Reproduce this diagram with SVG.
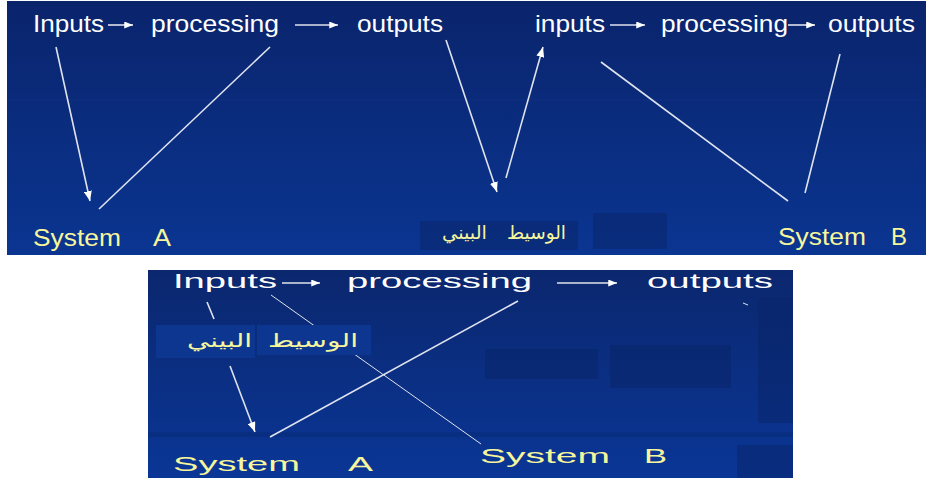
<svg xmlns="http://www.w3.org/2000/svg" width="926" height="478" viewBox="0 0 926 478">
<style>
.w{fill:#ffffff;font-family:"Liberation Sans",Arial,sans-serif;}
.y{fill:#f6f69c;font-family:"Liberation Sans",Arial,sans-serif;}
.ar{fill:#f6f69c;font-family:"DejaVu Sans",sans-serif;}
.ln{stroke:#dfe3ee;stroke-width:1.6;fill:none;}
.thin{stroke:#dfe3ee;stroke-width:1;fill:none;}
.dk{fill:#072468;opacity:0.5;}
.box{fill:#0c3690;}
</style>
<defs>
<linearGradient id="g1" x1="0" y1="0" x2="0" y2="1">
<stop offset="0" stop-color="#0a246c"/>
<stop offset="1" stop-color="#0a3591"/>
</linearGradient>
<linearGradient id="g2" x1="0" y1="0" x2="0" y2="1">
<stop offset="0" stop-color="#0b276e"/>
<stop offset="1" stop-color="#0a3696"/>
</linearGradient>
<marker id="ah" viewBox="0 0 10 8" refX="10" refY="4" markerWidth="9" markerHeight="7" markerUnits="userSpaceOnUse" orient="auto">
<path d="M0,0 L10,4 L0,8 Z" fill="#ffffff"/>
</marker>
<marker id="ah2" viewBox="0 0 10 8" refX="10" refY="4" markerWidth="10" markerHeight="8" markerUnits="userSpaceOnUse" orient="auto">
<path d="M0,0 L10,4 L0,8 Z" fill="#ffffff"/>
</marker>
</defs>
<rect width="926" height="478" fill="#ffffff"/>
<!-- top panel -->
<rect x="7" y="1" width="919" height="254" fill="url(#g1)"/>
<line x1="7" y1="100" x2="926" y2="100" stroke="#15338a" stroke-width="1" opacity="0.6"/>
<rect x="420" y="221" width="158" height="29" class="dk"/>
<rect x="593" y="213" width="74" height="36" class="dk"/>
<!-- bottom panel -->
<rect x="148" y="270" width="645" height="208" fill="url(#g2)"/>
<rect x="485" y="349" width="113" height="30" class="dk"/>
<rect x="610" y="345" width="121" height="43" class="dk"/>
<rect x="758" y="298" width="35" height="125" class="dk"/>
<rect x="148" y="432" width="645" height="5" fill="#07256e" opacity="0.35"/>
<rect x="737" y="445" width="56" height="33" class="dk"/>
<g id="connectors">
<line class="ln" x1="56" y1="47" x2="90" y2="201" marker-end="url(#ah2)"/>
<line class="ln" x1="270" y1="47" x2="99" y2="209"/>
<line class="ln" x1="446" y1="40" x2="497" y2="192" marker-end="url(#ah2)"/>
<line class="ln" x1="506" y1="178" x2="543" y2="47" marker-end="url(#ah2)"/>
<line class="ln" x1="601" y1="62" x2="788" y2="201"/>
<line class="ln" x1="840" y1="54" x2="805" y2="193"/>
<line class="ln" x1="108" y1="25" x2="133" y2="25" marker-end="url(#ah)"/>
<line class="ln" x1="295" y1="25" x2="338" y2="25" marker-end="url(#ah)"/>
<line class="ln" x1="610" y1="25" x2="645" y2="25" marker-end="url(#ah)"/>
<line class="ln" x1="788" y1="25" x2="815" y2="25" marker-end="url(#ah)"/>
<line class="ln" x1="282" y1="283" x2="320" y2="283" marker-end="url(#ah)"/>
<line class="ln" x1="557" y1="283" x2="617" y2="283" marker-end="url(#ah)"/>
<line class="thin" x1="271" y1="295" x2="481" y2="444"/>
<line class="ln" x1="207" y1="302" x2="214" y2="319"/>
<line class="ln" x1="518" y1="301" x2="270" y2="437"/>
<line class="ln" x1="230" y1="366" x2="255" y2="432" marker-end="url(#ah2)"/>
<line class="thin" x1="743" y1="303" x2="748" y2="305"/>
</g>
<g id="top-inputs-a"><text class="w" x="33" y="32" font-size="24" textLength="71" lengthAdjust="spacingAndGlyphs">Inputs</text></g>
<g id="top-processing-a"><text class="w" x="151" y="32" font-size="24" textLength="128" lengthAdjust="spacingAndGlyphs">processing</text></g>
<g id="top-outputs-a"><text class="w" x="357" y="32" font-size="24" textLength="86" lengthAdjust="spacingAndGlyphs">outputs</text></g>
<g id="top-inputs-b"><text class="w" x="535" y="32" font-size="24" textLength="70" lengthAdjust="spacingAndGlyphs">inputs</text></g>
<g id="top-processing-b"><text class="w" x="661" y="32" font-size="24" textLength="127" lengthAdjust="spacingAndGlyphs">processing</text></g>
<g id="top-outputs-b"><text class="w" x="828" y="32" font-size="24" textLength="87" lengthAdjust="spacingAndGlyphs">outputs</text></g>
<g id="top-system-a">
<text class="y" x="33" y="246" font-size="24" textLength="88" lengthAdjust="spacingAndGlyphs">System</text>
<text class="y" x="153" y="246" font-size="24" textLength="18" lengthAdjust="spacingAndGlyphs">A</text>
</g>
<g id="top-middleware">
<text class="ar" x="536.5" y="239" font-size="19" text-anchor="middle" textLength="59" lengthAdjust="spacingAndGlyphs">الوسيط</text>
<text class="ar" x="464.5" y="239" font-size="19" text-anchor="middle" textLength="45" lengthAdjust="spacingAndGlyphs">البيني</text>
</g>
<g id="top-system-b">
<text class="y" x="778" y="245" font-size="24" textLength="88" lengthAdjust="spacingAndGlyphs">System</text>
<text class="y" x="891" y="245" font-size="24" textLength="16" lengthAdjust="spacingAndGlyphs">B</text>
</g>
<g id="bottom-inputs"><text class="w" x="173" y="288" font-size="21" textLength="104" lengthAdjust="spacingAndGlyphs">Inputs</text></g>
<g id="bottom-processing"><text class="w" x="347" y="288" font-size="21" textLength="185" lengthAdjust="spacingAndGlyphs">processing</text></g>
<g id="bottom-outputs"><text class="w" x="647" y="288" font-size="21" textLength="126" lengthAdjust="spacingAndGlyphs">outputs</text></g>
<g id="bottom-middleware">
<rect x="156" y="325" width="99" height="33" class="box"/>
<rect x="257" y="325" width="114" height="30" class="box"/>
<text class="ar" x="313" y="347" font-size="19" text-anchor="middle" textLength="90" lengthAdjust="spacingAndGlyphs">الوسيط</text>
<text class="ar" x="219.5" y="347" font-size="19" text-anchor="middle" textLength="65" lengthAdjust="spacingAndGlyphs">البيني</text>
</g>
<g id="bottom-system-a">
<text class="y" x="173" y="471" font-size="21" textLength="127" lengthAdjust="spacingAndGlyphs">System</text>
<text class="y" x="348" y="471" font-size="21" textLength="25" lengthAdjust="spacingAndGlyphs">A</text>
</g>
<g id="bottom-system-b">
<text class="y" x="480" y="463" font-size="21" textLength="130" lengthAdjust="spacingAndGlyphs">System</text>
<text class="y" x="644" y="463" font-size="21" textLength="23" lengthAdjust="spacingAndGlyphs">B</text>
</g>
</svg>
